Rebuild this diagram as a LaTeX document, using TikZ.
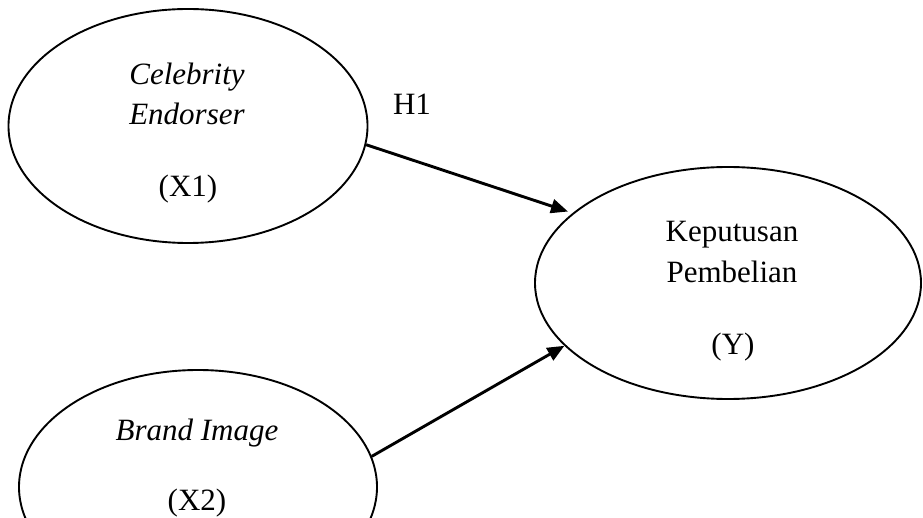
\documentclass[tikz,border=0pt]{standalone}
\usepackage{fontspec}
\setmainfont{Liberation Serif}
\usetikzlibrary{shapes.geometric,arrows.meta}
\begin{document}
\begin{tikzpicture}[x=1pt,y=-1pt,
  var/.style={draw,ellipse,line width=1.9pt,inner sep=0pt},
  txt/.style={anchor=base,inner sep=0pt,font=\fontsize{31}{37}\selectfont},
  conn/.style={line width=2.9pt,-{Triangle[length=17pt,width=14pt]}}]
\clip (0,0) rectangle (923,518);
\fill[white] (0,0) rectangle (923,518);
\node[var,minimum width=359pt,minimum height=234pt] (x1) at (188,126) {};
\node[var,minimum width=358pt,minimum height=234pt] (x2) at (198,487) {};
\node[var,minimum width=386pt,minimum height=232pt] (y) at (728,283) {};
\node[txt] (t1a) at (187,85) {\itshape Celebrity};
\node[txt] (t1b) at (187,125) {\itshape Endorser};
\node[txt] (t1c) at (188,197) {(X1)};
\node[txt] (t2a) at (197,440) {\itshape Brand Image};
\node[txt] (t2c) at (197,510) {(X2)};
\node[txt] (tya) at (732,242) {Keputusan};
\node[txt] (tyb) at (732,283) {Pembelian};
\node[txt] (tyc) at (733,355) {(Y)};
\node[txt] (h1) at (412,115) {H1};
\draw[conn] (x1.-6.7) -- ([shift={(-4,-2)}]y.156);
\draw[conn] (x2.10.8) -- (y.-159.3);
\end{tikzpicture}
\end{document}
